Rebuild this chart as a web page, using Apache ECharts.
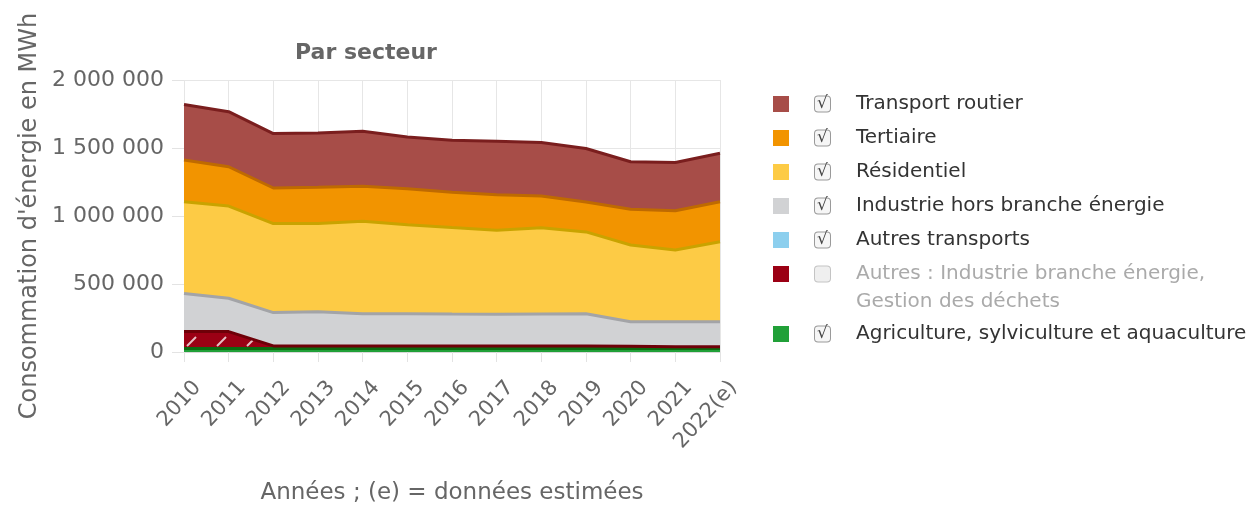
<!DOCTYPE html>
<html>
<head>
<meta charset="utf-8">
<script src="https://cdn.jsdelivr.net/npm/echarts@6/dist/echarts.min.js"></script>
<style>
  html, body { margin: 0; padding: 0; background: #fff; }
  #chart { width: 1254px; height: 505px; }
</style>
</head>
<body>
<div id="chart"></div>
<script>
var years = ['2010', '2011', '2012', '2013', '2014', '2015', '2016', '2017', '2018', '2019', '2020', '2021', '2022(e)'];

// values in MWh
var agriculture       = [25000, 25000, 25000, 25000, 25000, 25000, 25000, 25000, 25000, 25000, 25000, 25000, 25000];
var autres            = [125000, 125000, 20000, 20000, 20000, 20000, 20000, 20000, 20000, 20000, 18000, 13000, 13000];
var autresTransports  = [0, 0, 0, 0, 0, 0, 0, 0, 0, 0, 0, 0, 0];
var industrie         = [281000, 245000, 245000, 251000, 237000, 237000, 234000, 233000, 235000, 236000, 180000, 185000, 185000];
var residentiel       = [674000, 678000, 654000, 648000, 679000, 654000, 636000, 617000, 634000, 602000, 564000, 527000, 588000];
var tertiaire         = [307000, 289000, 262000, 267000, 257000, 265000, 259000, 262000, 233000, 220000, 262000, 289000, 294000];
var transportRoutier  = [408000, 405000, 400000, 399000, 405000, 380000, 383000, 392000, 393000, 393000, 350000, 355000, 356000];

var yTicks = [0, 500000, 1000000, 1500000, 2000000];

var NAME_AUTRES = 'Autres : Industrie branche énergie,';
var FONT = 'DejaVu Sans';

var chart = echarts.init(document.getElementById('chart'), null, {renderer: 'canvas'});

// hatch for the "Autres" area
var hatch = document.createElement('canvas');
hatch.width = 30;
hatch.height = 30;
var hc = hatch.getContext('2d');
hc.fillStyle = '#9b0014';
hc.fillRect(0, 0, 30, 30);
hc.strokeStyle = 'rgba(255,255,255,0.75)';
hc.lineWidth = 2;
hc.beginPath();
hc.moveTo(7, 16);
hc.lineTo(16, 7);
hc.stroke();

function areaSeries(name, data, fill, stroke, area, lw) {
    return {
        name: name,
        type: 'line',
        stack: 'total',
        data: data,
        symbol: 'none',
        smooth: false,
        itemStyle: {color: fill},
        lineStyle: {color: stroke, width: lw == null ? 3 : lw},
        areaStyle: {color: area || fill, opacity: 1},
        emphasis: {disabled: true}
    };
}

function legendFmt(name) {
    if (name === NAME_AUTRES) {
        return '{sp| }{off| }{sp2| }{g|' + name + '}';
    }
    return '{sp| }{on|√}{sp2| }{t|' + name + '}';
}

var legendRich = {
    sp: {width: 21},
    sp2: {width: 26},
    on: {width: 15, height: 15, lineHeight: 15, align: 'center', fontSize: 17, color: '#444',
         borderColor: '#9a9a9a', borderWidth: 1, borderRadius: 3, backgroundColor: '#f6f6f6'},
    off: {width: 15, height: 15, lineHeight: 15, borderColor: '#c4c4c4', borderWidth: 1,
          borderRadius: 3, backgroundColor: '#efefef'},
    t: {fontSize: 20, color: '#333', lineHeight: 24, fontFamily: FONT},
    g: {fontSize: 20, color: '#aaa', lineHeight: 24, fontFamily: FONT}
};

function fmtNum(v) {
    return String(v).replace(/\B(?=(\d{3})+(?!\d))/g, ' ');
}

chart.setOption({
    animation: false,
    backgroundColor: '#fff',
    textStyle: {fontFamily: FONT},
    title: {
        text: 'Par secteur',
        left: 290,
        top: 37,
        textStyle: {fontSize: 22, fontWeight: 'bold', color: '#666', fontFamily: FONT}
    },
    grid: {left: 184, right: 534, top: 80, bottom: 153, containLabel: false, outerBoundsMode: 'none'},
    legend: [{
        orient: 'vertical',
        left: 768,
        top: 89,
        itemWidth: 16,
        itemHeight: 16,
        itemGap: 14,
        icon: 'rect',
        selectedMode: false,
        itemStyle: {borderWidth: 0},
        data: ['Transport routier', 'Tertiaire', 'Résidentiel', 'Industrie hors branche énergie', 'Autres transports', NAME_AUTRES],
        formatter: legendFmt,
        textStyle: {rich: legendRich}
    }, {
        orient: 'vertical',
        left: 768,
        top: 319,
        itemWidth: 16,
        itemHeight: 16,
        icon: 'rect',
        selectedMode: false,
        itemStyle: {borderWidth: 0},
        data: ['Agriculture, sylviculture et aquaculture'],
        formatter: legendFmt,
        textStyle: {rich: legendRich}
    }],
    graphic: [{
        type: 'text',
        left: 856,
        top: 292,
        style: {text: 'Gestion des déchets', fontSize: 20, fill: '#aaa', fontFamily: FONT}
    }],
    xAxis: {
        type: 'category',
        data: years,
        boundaryGap: false,
        name: 'Années ; (e) = données estimées',
        nameLocation: 'middle',
        nameGap: 130,
        nameTextStyle: {fontSize: 23, color: '#666', fontFamily: FONT},
        axisLine: {lineStyle: {color: '#d8d8d8', width: 1}},
        axisTick: {show: true, length: 10, lineStyle: {color: '#e3e3e3'}},
        axisLabel: {rotate: 48, fontSize: 21, color: '#666', margin: 47, interval: 0,
                    showMinLabel: true, showMaxLabel: true, hideOverlap: false,
                    padding: [0, -20, 0, 0], fontFamily: FONT},
        splitLine: {show: true, lineStyle: {color: '#e6e6e6', width: 1}}
    },
    yAxis: {
        type: 'value',
        min: yTicks[0],
        max: yTicks[yTicks.length - 1],
        interval: 500000,
        name: "Consommation d'énergie en MWh",
        nameLocation: 'middle',
        nameGap: 142,
        nameTextStyle: {fontSize: 24, color: '#666', fontFamily: FONT},
        axisLine: {show: false},
        axisTick: {show: true, length: 12, lineStyle: {color: '#e3e3e3'}},
        axisLabel: {fontSize: 22, color: '#666', margin: 20, fontFamily: FONT, formatter: fmtNum},
        splitLine: {show: true, lineStyle: {color: '#e6e6e6', width: 1}}
    },
    series: [
        areaSeries('Agriculture, sylviculture et aquaculture', agriculture, '#21a038', '#0b6b10'),
        areaSeries(NAME_AUTRES, autres, '#9b0014', '#6e0008', {image: hatch, repeat: 'repeat'}),
        areaSeries('Autres transports', autresTransports, '#8ccfee', '#6cb6dd', null, 0),
        areaSeries('Industrie hors branche énergie', industrie, '#d1d2d4', '#a3a4a7'),
        areaSeries('Résidentiel', residentiel, '#fdcb45', '#c9a300'),
        areaSeries('Tertiaire', tertiaire, '#f29400', '#bf6a00'),
        areaSeries('Transport routier', transportRoutier, '#a74d48', '#7a1e1e')
    ]
});
</script>
</body>
</html>
